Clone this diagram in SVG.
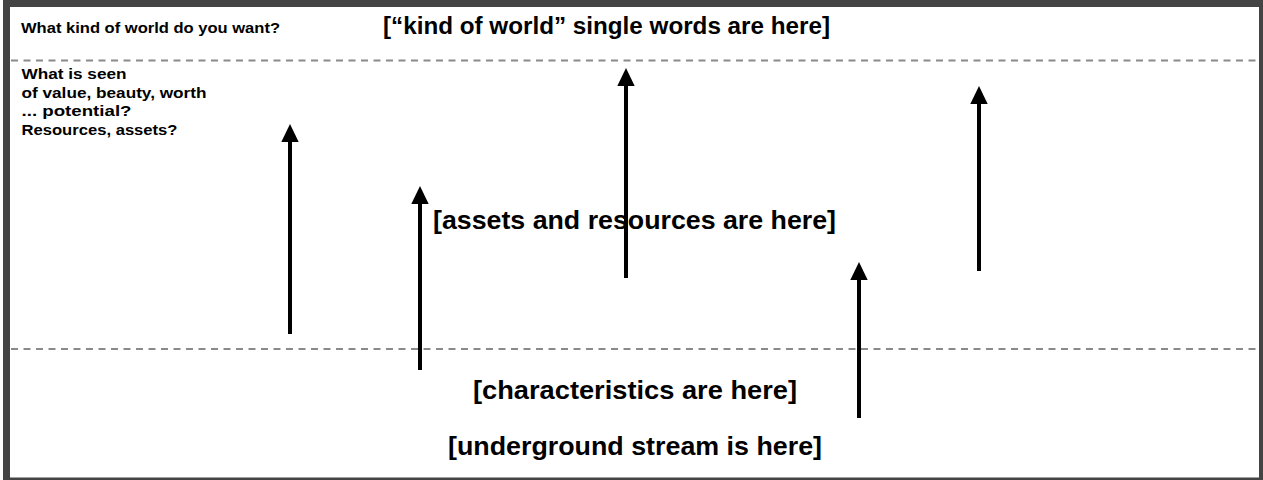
<svg xmlns="http://www.w3.org/2000/svg" width="1263" height="480" viewBox="0 0 1263 480">
<style>
.t{font-family:"Liberation Sans",Arial,sans-serif;font-weight:bold;fill:#000}
.s{font-size:15px}
.dash{stroke:#8a8a8a;stroke-width:2;stroke-dasharray:7 5.5;fill:none}
.arr{stroke:#000;stroke-width:4;fill:none;marker-end:url(#ah)}
</style>
<defs>
<marker id="ah" markerUnits="userSpaceOnUse" markerWidth="18" markerHeight="18" refX="0" refY="8.7" orient="auto" viewBox="0 0 18 17.4">
<path d="M0,0 L18,8.7 L0,17.4 Z" fill="#000"/>
</marker>
</defs>
<g id="frame">
<rect x="3" y="0" width="1260" height="480" fill="#444"/>
<rect x="10" y="7" width="1249" height="470.5" fill="#fff"/>
</g>
<g id="bands">
<line class="dash" x1="11" y1="60.5" x2="1259" y2="60.5"/>
<line class="dash" x1="11" y1="349" x2="1259" y2="349"/>
</g>
<g id="question">
<text class="t s" x="21" y="33" textLength="259" lengthAdjust="spacingAndGlyphs">What kind of world do you want?</text>
</g>
<g id="seen">
<text class="t s" x="21.5" y="78.5" textLength="105" lengthAdjust="spacingAndGlyphs">What is seen</text>
<text class="t s" x="21.5" y="97.5" textLength="185" lengthAdjust="spacingAndGlyphs">of value, beauty, worth</text>
<text class="t s" x="21.5" y="116.3" textLength="110" lengthAdjust="spacingAndGlyphs">... potential?</text>
<text class="t s" x="21.5" y="135" textLength="156" lengthAdjust="spacingAndGlyphs">Resources, assets?</text>
</g>
<g id="kind-of-world">
<text class="t" x="383" y="34" font-size="23" textLength="447" lengthAdjust="spacingAndGlyphs">[“kind of world” single words are here]</text>
</g>
<g id="assets">
<text class="t" x="433" y="228.5" font-size="26" textLength="403" lengthAdjust="spacingAndGlyphs">[assets and resources are here]</text>
</g>
<g id="characteristics">
<text class="t" x="473" y="398.5" font-size="25" textLength="324" lengthAdjust="spacingAndGlyphs">[characteristics are here]</text>
</g>
<g id="underground">
<text class="t" x="448" y="455" font-size="26" textLength="374" lengthAdjust="spacingAndGlyphs">[underground stream is here]</text>
</g>
<g id="connectors">
<line class="arr" x1="290" y1="334" x2="290" y2="142"/>
<line class="arr" x1="420" y1="370" x2="420" y2="204"/>
<line class="arr" x1="626" y1="278" x2="626" y2="86"/>
<line class="arr" x1="859" y1="418" x2="859" y2="280"/>
<line class="arr" x1="979" y1="271" x2="979" y2="104"/>
</g>
</svg>
